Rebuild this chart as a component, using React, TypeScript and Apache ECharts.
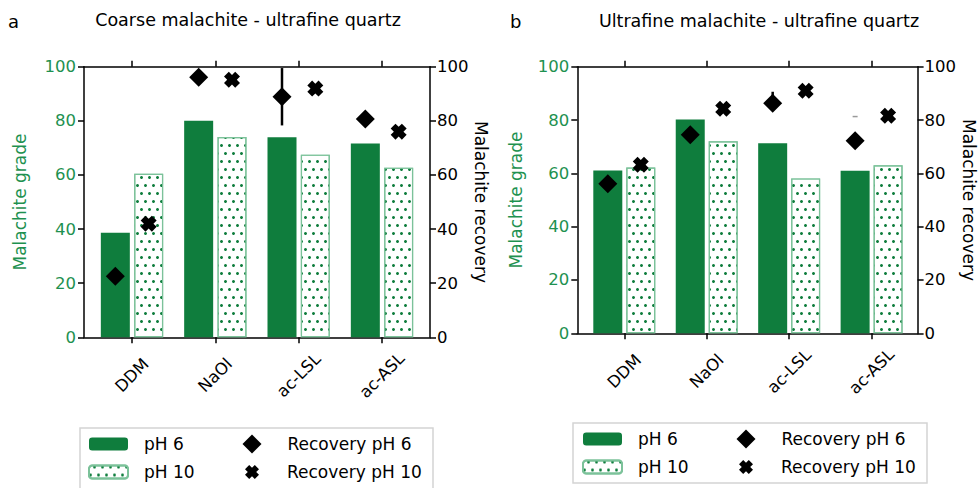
import React, { useEffect, useRef } from "react";
import * as echarts from "echarts";

// ---------- data ----------
const categories = ["DDM", "NaOl", "ac-LSL", "ac-ASL"];
const tickValues = [0, 1, 2, 3];

// Panel a: Coarse malachite - ultrafine quartz
const gradeA_pH6 = [38.6, 80.0, 73.9, 71.6];
const gradeA_pH10 = [60.4, 74.0, 67.5, 62.7];
const recA_pH6 = [22.6, 96.1, 88.9, 80.7];
const recA_pH10 = [42.0, 95.2, 91.9, 76.0];
const errA_low = [null, null, 78.3, null];
const errA_high = [null, null, 99.5, null];

// Panel b: Ultrafine malachite - ultrafine quartz
const gradeB_pH6 = [61.1, 80.2, 71.3, 61.0];
const gradeB_pH10 = [62.2, 72.0, 58.1, 63.0];
const recB_pH6 = [56.1, 74.5, 86.3, 72.2];
const recB_pH10 = [63.2, 84.2, 91.0, 81.6];
const errB_low = [null, null, 86.3, null];
const errB_high = [null, null, 90.6, null];
const capB_pH6 = [null, null, null, 81.3];

// ---------- styles ----------
const GREEN = "#0f7d3d";
const LABEL_GREEN = "#1e9150";
const FONT = "DejaVu Sans";
const CROSS =
  "path://M3,0 L5,2 L7,0 L10,3 L8,5 L10,7 L7,10 L5,8 L3,10 L0,7 L2,5 L0,3 Z";
const OFFSET = 0.2;

type Panel = {
  grid: { left: number; top: number; width: number; height: number };
  xMin: number;
  xMax: number;
  g6: number[];
  g10: number[];
  r6: number[];
  r10: number[];
  lo: (number | null)[];
  hi: (number | null)[];
  cap: (number | null)[];
};

const panels: Panel[] = [
  {
    grid: { left: 84, top: 66.7, width: 346, height: 270.6 },
    xMin: -0.576,
    xMax: 3.576,
    g6: gradeA_pH6,
    g10: gradeA_pH10,
    r6: recA_pH6,
    r10: recA_pH10,
    lo: errA_low,
    hi: errA_high,
    cap: [null, null, null, null],
  },
  {
    grid: { left: 577.3, top: 66.7, width: 345.4, height: 266.6 },
    xMin: -0.57,
    xMax: 3.558,
    g6: gradeB_pH6,
    g10: gradeB_pH10,
    r6: recB_pH6,
    r10: recB_pH10,
    lo: errB_low,
    hi: errB_high,
    cap: capB_pH6,
  },
];

const nameGaps = [
  [56, 34],
  [53, 33],
];

function buildOption() {
  const grid: any[] = [];
  const xAxis: any[] = [];
  const yAxis: any[] = [];
  const series: any[] = [];

  panels.forEach((p, i) => {
    grid.push({ ...p.grid, containLabel: false });
    const axisLine = { show: true, onZero: false, lineStyle: { color: "#000", width: 1.5 } };
    const axisTickBase = { show: true, length: 6, lineStyle: { color: "#000", width: 1.5 } };
    // bottom x
    xAxis.push({
      type: "value",
      gridIndex: i,
      position: "bottom",
      min: p.xMin,
      max: p.xMax,
      axisLine,
      axisTick: { ...axisTickBase, customValues: tickValues },
      splitLine: { show: false },
      axisLabel: {
        customValues: tickValues,
        formatter: (v: number) => categories[Math.round(v)] ?? "",
        rotate: 45,
        align: "center",
        verticalAlign: "middle",
        margin: 38,
        fontSize: 16.5,
        fontFamily: FONT,
        color: "#000",
      },
    });
    // top x (frame + ticks)
    xAxis.push({
      type: "value",
      gridIndex: i,
      position: "top",
      min: p.xMin,
      max: p.xMax,
      axisLine,
      axisTick: { ...axisTickBase, customValues: tickValues },
      splitLine: { show: false },
      axisLabel: { show: false },
    });
    // left y
    yAxis.push({
      type: "value",
      gridIndex: i,
      position: "left",
      min: 0,
      max: 100,
      interval: 20,
      axisLine,
      axisTick: axisTickBase,
      splitLine: { show: false },
      axisLabel: { fontSize: 16.5, fontFamily: FONT, color: LABEL_GREEN, margin: 8 },
      name: "Malachite grade",
      nameLocation: "middle",
      nameGap: nameGaps[i][0],
      nameTextStyle: { fontSize: 17, fontFamily: FONT, color: LABEL_GREEN },
    });
    // right y
    yAxis.push({
      type: "value",
      gridIndex: i,
      position: "right",
      min: 0,
      max: 100,
      interval: 20,
      axisLine,
      axisTick: axisTickBase,
      splitLine: { show: false },
      axisLabel: { fontSize: 16.5, fontFamily: FONT, color: "#000", margin: 7 },
      name: "Malachite recovery",
      nameLocation: "middle",
      nameRotate: -90,
      nameGap: nameGaps[i][1],
      nameTextStyle: { fontSize: 17, fontFamily: FONT, color: "#000" },
    });

    const xi = i * 2;
    const yl = i * 2;
    const yr = i * 2 + 1;

    series.push({
      name: "pH 6",
      type: "bar",
      xAxisIndex: xi,
      yAxisIndex: yl,
      barWidth: 29,
      barGap: "-100%",
      z: 2,
      itemStyle: { color: GREEN, borderWidth: 0 },
      data: p.g6.map((v, k) => [k - OFFSET, v]),
    });
    series.push({
      name: "pH 10",
      type: "bar",
      xAxisIndex: xi,
      yAxisIndex: yl,
      barWidth: 29,
      barGap: "-100%",
      z: 2,
      itemStyle: {
        color: "#ffffff",
        borderColor: "#7cc29a",
        borderWidth: 1.2,
        decal: {
          symbol: "circle",
          symbolSize: 1,
          color: GREEN,
          backgroundColor: "#ffffff",
          dashArrayX: [
            [3, 5],
            [0, 4, 3, 1],
          ],
          dashArrayY: [3, 5],
          rotation: 0,
        },
      },
      data: p.g10.map((v, k) => [k + OFFSET, v]),
    });
    series.push({
      name: "err" + i,
      type: "custom",
      xAxisIndex: xi,
      yAxisIndex: yr,
      z: 3,
      encode: { x: 0, y: [1, 2] },
      renderItem: (_params: any, api: any) => {
        const x = api.value(0);
        const lo = api.coord([x, api.value(1)]);
        const hi = api.coord([x, api.value(2)]);
        return {
          type: "line",
          shape: { x1: lo[0], y1: lo[1], x2: hi[0], y2: hi[1] },
          style: { stroke: "#000", lineWidth: 2.5 },
        };
      },
      data: p.lo
        .map((l, k) => (l !== null && p.hi[k] !== null ? [k - OFFSET, l, p.hi[k]] : null))
        .filter((d) => d !== null),
    });
    series.push({
      name: "cap" + i,
      type: "scatter",
      xAxisIndex: xi,
      yAxisIndex: yr,
      z: 3,
      symbol: "rect",
      symbolSize: [5, 1.5],
      itemStyle: { color: "#9a9a9a", opacity: 1 },
      data: p.cap
        .map((c, k) => (c !== null ? [k - OFFSET, c] : null))
        .filter((d) => d !== null),
    });
    series.push({
      name: "Recovery pH 6",
      type: "scatter",
      xAxisIndex: xi,
      yAxisIndex: yr,
      z: 4,
      symbol: "diamond",
      symbolSize: 19,
      itemStyle: { color: "#000", opacity: 1 },
      data: p.r6.map((v, k) => [k - OFFSET, v]),
    });
    series.push({
      name: "Recovery pH 10",
      type: "scatter",
      xAxisIndex: xi,
      yAxisIndex: yr,
      z: 4,
      symbol: CROSS,
      symbolSize: 16,
      itemStyle: { color: "#000", opacity: 1 },
      data: p.r10.map((v, k) => [k + OFFSET, v]),
    });
  });

  const legendText = (pad: number) => ({
    fontSize: 17,
    fontFamily: FONT,
    color: "#000",
    lineHeight: 19,
    padding: [0, 0, 0, pad],
  });
  const legendBase = {
    orient: "vertical",
    padding: 0,
    itemGap: 9,
    selectedMode: false,
  };
  const legendPos = [
    { a: 88, b: 252, top: 434.5 },
    { a: 582, b: 746, top: 429.5 },
  ];
  const legend: any[] = [];
  legendPos.forEach((lp) => {
    legend.push({ ...legendBase, left: lp.a, top: lp.top, itemWidth: 39, itemHeight: 13, textStyle: legendText(11), data: ["pH 6", "pH 10"] });
    legend.push({ ...legendBase, left: lp.b - 9.5, top: lp.top, itemWidth: 19, itemHeight: 19, textStyle: legendText(21), data: ["Recovery pH 6"] });
    legend.push({ ...legendBase, left: lp.b - 7, top: lp.top + 28, itemWidth: 14, itemHeight: 14, textStyle: legendText(23), data: ["Recovery pH 10"] });
  });

  const textFont = (size: number) => `${size}px "${FONT}"`;
  const graphic: any[] = [
    { type: "rect", shape: { x: 80, y: 428, width: 353, height: 70 }, style: { fill: "none", stroke: "#d4d4d4", lineWidth: 1.5 }, z: 0 },
    { type: "rect", shape: { x: 573, y: 423, width: 354, height: 60 }, style: { fill: "none", stroke: "#d4d4d4", lineWidth: 1.5 }, z: 0 },
    { type: "text", x: 8, y: 21, style: { text: "a", font: textFont(18), fill: "#000", textAlign: "left", textVerticalAlign: "middle" } },
    { type: "text", x: 510, y: 21, style: { text: "b", font: textFont(18), fill: "#000", textAlign: "left", textVerticalAlign: "middle" } },
    { type: "text", x: 248, y: 20, style: { text: "Coarse malachite - ultrafine quartz", font: textFont(17.5), fill: "#000", textAlign: "center", textVerticalAlign: "middle" } },
    { type: "text", x: 759, y: 21, style: { text: "Ultrafine malachite - ultrafine quartz", font: textFont(17.5), fill: "#000", textAlign: "center", textVerticalAlign: "middle" } },
  ];

  return {
    animation: false,
    backgroundColor: "#ffffff",
    textStyle: { fontFamily: FONT },
    grid,
    xAxis,
    yAxis,
    series,
    legend,
    graphic,
  };
}

export default function App() {
  const ref = useRef<HTMLDivElement>(null);
  useEffect(() => {
    if (!ref.current) return;
    const chart = echarts.init(ref.current, undefined, { renderer: "svg" });
    chart.setOption(buildOption() as any);
    return () => chart.dispose();
  }, []);
  return (
    <div
      ref={ref}
      style={{ position: "absolute", left: 0, top: 0, width: 978, height: 488, background: "#fff" }}
    />
  );
}
